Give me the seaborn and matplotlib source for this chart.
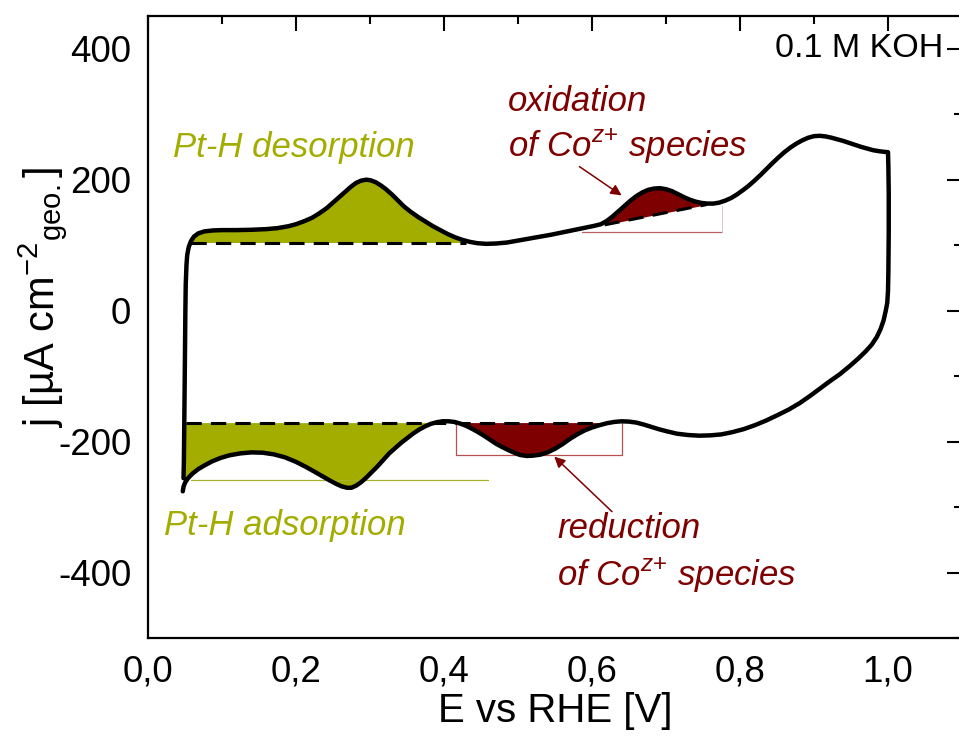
import numpy as np
import pandas as pd
import matplotlib
matplotlib.use("Agg")
import matplotlib.pyplot as plt
from matplotlib.ticker import MultipleLocator, FixedLocator, FixedFormatter
import seaborn as sns

# ---------------- data ----------------
# anodic scan (E [V], j [uA cm-2])
anodic_E = [0.048, 0.0485, 0.049, 0.0495, 0.050, 0.0505, 0.051, 0.052, 0.053, 0.055,
            0.058, 0.062, 0.068, 0.076, 0.088, 0.10, 0.12, 0.14, 0.16, 0.175,
            0.19, 0.20, 0.212, 0.222, 0.232, 0.242, 0.25, 0.258, 0.266, 0.274,
            0.281, 0.288, 0.295, 0.301, 0.308, 0.315, 0.322, 0.33, 0.338, 0.346,
            0.355, 0.365, 0.375, 0.385, 0.395, 0.405, 0.415, 0.425, 0.435, 0.445,
            0.457, 0.47, 0.485, 0.50, 0.515, 0.53, 0.545, 0.56, 0.575, 0.59,
            0.603, 0.612, 0.62, 0.628, 0.636, 0.644, 0.652, 0.66, 0.668, 0.676,
            0.684, 0.692, 0.70, 0.708, 0.716, 0.724, 0.732, 0.74, 0.748, 0.756,
            0.764, 0.772, 0.78, 0.788, 0.796, 0.804, 0.812, 0.82, 0.828, 0.836,
            0.844, 0.852, 0.86, 0.868, 0.876, 0.884, 0.892, 0.90, 0.908, 0.916,
            0.924, 0.932, 0.94, 0.948, 0.956, 0.964, 0.972, 0.98, 0.988, 0.995, 1.0]
anodic_j = [-256, -230, -180, -120, -60, 0, 40, 70, 85, 97,
            106, 113, 118, 121, 122.5, 123, 123, 123.5, 124.5, 126,
            129, 132, 137, 142, 149, 157, 165, 173, 181, 189,
            195, 198.5, 200, 199, 196, 191, 185, 177, 168, 159,
            151, 143, 136, 129, 123, 117, 112, 108, 105, 103,
            102, 102.5, 104, 107, 110, 113, 116, 119.5, 123, 126.5,
            129.5, 132, 137, 144, 152, 160, 168, 175, 180.5, 184.5,
            186.5, 187, 185.5, 182.5, 178, 173.5, 169.5, 166.5, 164.5, 163.5,
            163.5, 165, 168, 172, 177.5, 184, 191, 199, 207.5, 216.5,
            225.5, 234, 242, 249, 255, 260, 264, 266.5, 267, 266,
            264, 261.5, 259, 256, 253, 250, 247.5, 245, 243.5, 242.5, 242]
# cathodic scan
cathodic_E = [1.0, 1.0005, 1.001, 1.001, 1.0005, 1.0, 0.999, 0.997, 0.994, 0.99,
              0.985, 0.978, 0.97, 0.96, 0.949, 0.935, 0.92, 0.908, 0.895, 0.881,
              0.866, 0.85, 0.835, 0.82, 0.805, 0.79, 0.775, 0.76, 0.745, 0.73,
              0.715, 0.70, 0.69, 0.68, 0.67, 0.66, 0.65, 0.64, 0.63, 0.62,
              0.61, 0.60, 0.59, 0.58, 0.57, 0.56, 0.55, 0.54, 0.53, 0.52,
              0.512, 0.503, 0.495, 0.487, 0.478, 0.47, 0.462, 0.454, 0.446, 0.438,
              0.43, 0.422, 0.414, 0.406, 0.398, 0.39, 0.382, 0.374, 0.366, 0.358,
              0.35, 0.342, 0.334, 0.326, 0.318, 0.31, 0.302, 0.295, 0.288, 0.281,
              0.275, 0.269, 0.262, 0.255, 0.245, 0.235, 0.225, 0.213, 0.2, 0.185,
              0.17, 0.155, 0.14, 0.125, 0.11, 0.098, 0.087, 0.077, 0.068, 0.06,
              0.054, 0.05, 0.048, 0.047]
cathodic_j = [242, 220, 180, 120, 60, 30, 12, 0, -15, -28,
              -40, -52, -62, -73, -84, -97, -109, -119, -130, -141,
              -151, -160, -168, -175, -181, -185.5, -189, -190.5, -191, -190,
              -188, -184, -181, -177.5, -174, -171, -169.5, -169, -170, -172,
              -175, -178.5, -183, -189, -196, -204, -211, -216.5, -220, -221.5,
              -222, -220.5, -217, -213, -208, -203, -197, -191, -185.5, -180.5,
              -176, -172.5, -170, -169, -169, -170.5, -173, -177, -182, -188,
              -195, -202, -210, -218, -228, -238, -247, -255, -262, -267.5,
              -270.5, -270.5, -268.5, -265, -259, -252.5, -246, -238.5, -231, -224,
              -219.5, -217, -216.5, -218, -221, -225, -230, -236, -242, -249,
              -256, -263, -269, -276]

# baselines
hupd_base_anodic = 104      # Pt-H desorption baseline
hupd_base_cathodic = -171   # Pt-H adsorption baseline
hupd_anodic_range = [0.058, 0.43]
hupd_cathodic_range = [0.052, 0.61]
co_ox_base_E = [0.617, 0.755]
co_ox_base_j = [131, 162]

x_ticks = [0.0, 0.2, 0.4, 0.6, 0.8, 1.0]
x_ticklabels = ["0,0", "0,2", "0,4", "0,6", "0,8", "1,0"]
y_ticks = [-400, -200, 0, 200, 400]
y_ticklabels = ["-400", "-200", "0", "200", "400"]

OLIVE = "#A3AD00"
DRED = "#7F0000"

# ---------------- style ----------------
sns.set_style("white")
plt.rcParams["font.family"] = ["Liberation Sans", "DejaVu Sans"]
plt.rcParams["mathtext.fontset"] = "custom"
plt.rcParams["mathtext.rm"] = "Liberation Sans"
plt.rcParams["mathtext.it"] = "Liberation Sans:italic"
plt.rcParams["mathtext.bf"] = "Liberation Sans:bold"
for k in ["text.color", "axes.labelcolor", "xtick.color", "ytick.color",
          "xtick.labelcolor", "ytick.labelcolor"]:
    plt.rcParams[k] = "black"

fig = plt.figure(figsize=(9.59, 7.43), dpi=100)
ax = fig.add_axes([148 / 959, 1 - 638 / 743, (962 - 148) / 959, (638 - 16) / 743])

aE = np.array(anodic_E); aj = np.array(anodic_j)
cE = np.array(cathodic_E); cj = np.array(cathodic_j)

# ---------------- fills ----------------
m = (aE >= hupd_anodic_range[0]) & (aE <= 0.44)
ax.fill_between(aE[m], aj[m], hupd_base_anodic, where=aj[m] >= hupd_base_anodic,
                interpolate=True, color=OLIVE, lw=0, zorder=1)

m = (cE >= 0.05) & (cE <= 0.40)
ax.fill_between(cE[m], cj[m], hupd_base_cathodic, where=cj[m] <= hupd_base_cathodic,
                interpolate=True, color=OLIVE, lw=0, zorder=1)

m = (cE >= 0.41) & (cE <= 0.64)
ax.fill_between(cE[m], cj[m], hupd_base_cathodic, where=cj[m] <= hupd_base_cathodic,
                interpolate=True, color=DRED, lw=0, zorder=1)

m = (aE >= co_ox_base_E[0]) & (aE <= co_ox_base_E[1])
xs = np.concatenate([[co_ox_base_E[0]], aE[m], [co_ox_base_E[1]]])
ys = np.interp(xs, aE, aj)
base = np.interp(xs, co_ox_base_E, co_ox_base_j)
ax.fill_between(xs, ys, base, where=ys >= base, interpolate=True, color=DRED, lw=0, zorder=1)

# thin guide lines
ax.plot([0.058, 0.46], [-258, -258], color="#a8b030", lw=0.9, zorder=1)
ax.plot([0.416, 0.416, 0.64, 0.64], [-171, -221, -221, -171], color="#b85050", lw=0.9, zorder=1)
ax.plot([0.587, 0.776], [120, 120], color="#b86060", lw=0.9, zorder=1)
ax.plot([0.776, 0.776], [120, 160], color="#e0c8c8", lw=0.8, zorder=1)

# dashed baselines
dash_kw = dict(color="black", lw=2.2, dashes=(5, 3), zorder=2)
ax.plot(hupd_anodic_range, [hupd_base_anodic] * 2, **dash_kw)
ax.plot(hupd_cathodic_range, [hupd_base_cathodic] * 2, **dash_kw)
ax.plot(co_ox_base_E, co_ox_base_j, **dash_kw)

# ---------------- CV curve ----------------
df = pd.DataFrame({"E": np.concatenate([aE, cE]), "j": np.concatenate([aj, cj])})
sns.lineplot(data=df, x="E", y="j", sort=False, estimator=None, color="black",
             lw=3.2, ax=ax, zorder=3)
for ln in ax.lines[-1:]:
    ln.set_solid_joinstyle("round")
    ln.set_solid_capstyle("round")

# ---------------- axes ----------------
ax.set_xlim(0, 1.1)
ax.set_ylim(-500, 450)
ax.xaxis.set_major_locator(FixedLocator(x_ticks))
ax.xaxis.set_major_formatter(FixedFormatter(x_ticklabels))
ax.yaxis.set_major_locator(FixedLocator(y_ticks))
ax.yaxis.set_major_formatter(FixedFormatter(y_ticklabels))
ax.xaxis.set_minor_locator(MultipleLocator(0.1))
ax.yaxis.set_minor_locator(MultipleLocator(100))
ax.tick_params(which="both", direction="in", top=True, right=True, width=1.5,
               colors="black")
ax.tick_params(which="major", length=11, labelsize=26.5, pad=12)
ax.tick_params(which="minor", length=6)
for s in ax.spines.values():
    s.set_linewidth(1.6)
    s.set_color("black")

ax.set_xlabel("E vs RHE [V]", fontsize=29, labelpad=2)
ax.set_ylabel("j [µA cm$^{-2}$$_{\\mathrm{geo.}}$]", fontsize=30)
ax.yaxis.set_label_coords(-0.097, 0.548)

# ---------------- annotations ----------------
ax.text(1.0745, 400, "0.1 M KOH", fontsize=24.5, ha="right", va="center")
ax.text(0.034, 235, "Pt-H desorption", fontsize=25, style="italic", color=OLIVE,
        ha="left", va="baseline")
ax.text(0.0217, -342, "Pt-H adsorption", fontsize=25, style="italic", color=OLIVE,
        ha="left", va="baseline")
ax.text(0.4865, 305, "oxidation", fontsize=25, style="italic", color=DRED,
        ha="left", va="baseline")
ax.text(0.4865, 235, "of Co$^{z{+}}$ species", fontsize=25, style="italic",
        color=DRED, ha="left", va="baseline")
ax.text(0.553, -348, "reduction", fontsize=25, style="italic", color=DRED,
        ha="left", va="baseline")
ax.text(0.553, -420, "of Co$^{z{+}}$ species", fontsize=25, style="italic",
        color=DRED, ha="left", va="baseline")

arrow_kw = dict(arrowstyle="-|>", color=DRED, lw=1.1, mutation_scale=16,
                shrinkA=0, shrinkB=0)
ax.annotate("", xy=(0.640, 176), xytext=(0.583, 220), arrowprops=arrow_kw, zorder=4)
ax.annotate("", xy=(0.549, -223), xytext=(0.627, -307), arrowprops=arrow_kw, zorder=4)

fig.savefig("out.png", dpi=100)
